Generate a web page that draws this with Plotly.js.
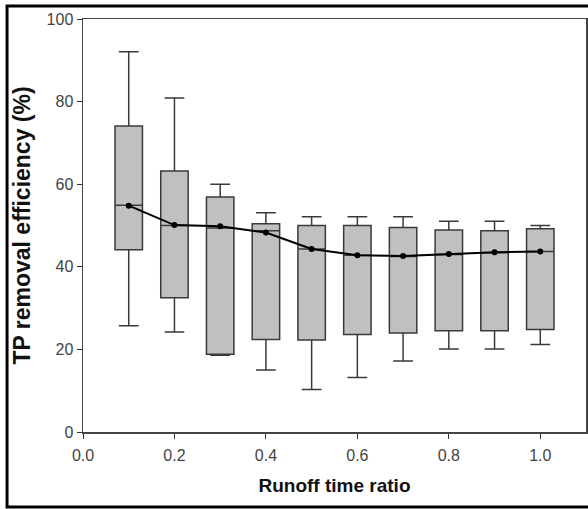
<!DOCTYPE html>
<html>
<head>
<meta charset="utf-8">
<script src="https://cdn.plot.ly/plotly-3.0.1.min.js"></script>
<style>html,body{margin:0;padding:0;background:#fff;}#chart{width:588px;height:509px;}</style>
</head>
<body>
<div id="chart"></div>
<script>
// Runoff time ratio positions
const ratio = [0.1, 0.2, 0.3, 0.4, 0.5, 0.6, 0.7, 0.8, 0.9, 1.0];
// Box statistics (TP removal efficiency, %)
const upperWhisker = [92.1, 80.9, 60.0, 53.1, 52.1, 52.1, 52.1, 51.0, 51.0, 50.0];
const q3 = [74.1, 63.2, 56.9, 50.4, 50.0, 50.0, 49.5, 48.9, 48.7, 49.2];
const median = [54.9, 50.0, 49.4, 48.7, 44.3, 42.8, 42.5, 43.0, 43.4, 43.7];
const q1 = [44.1, 32.5, 18.8, 22.4, 22.3, 23.6, 24.0, 24.5, 24.5, 24.8];
const lowerWhisker = [25.7, 24.2, 18.6, 15.0, 10.3, 13.2, 17.2, 20.1, 20.1, 21.2];
// Mean values (connected line)
const meanVals = [54.8, 50.1, 49.8, 48.3, 44.3, 42.8, 42.6, 43.1, 43.5, 43.7];
const xTicks = [0.0, 0.2, 0.4, 0.6, 0.8, 1.0];
const yTicks = [0, 20, 40, 60, 80, 100];

const boxTrace = {
  type: 'box',
  x: ratio,
  q1: q1,
  median: median,
  q3: q3,
  lowerfence: lowerWhisker,
  upperfence: upperWhisker,
  width: 0.06,
  whiskerwidth: 0.72,
  fillcolor: '#c0c0c0',
  line: {color: '#3a3a3a', width: 1.5},
  boxpoints: false,
  hoverinfo: 'skip',
  showlegend: false
};
const meanTrace = {
  type: 'scatter',
  mode: 'lines+markers',
  x: ratio,
  y: meanVals,
  line: {color: '#000', width: 2},
  marker: {color: '#000', size: 6},
  showlegend: false,
  hoverinfo: 'skip'
};

const tickFont = {family: '"Liberation Sans Narrow", "Arial Narrow", Arial, sans-serif', size: 16, color: '#444'};

const layout = {
  width: 588,
  height: 509,
  margin: {l: 83, r: 2, t: 19, b: 77},
  paper_bgcolor: '#fff',
  plot_bgcolor: '#fff',
  showlegend: false,
  font: {family: 'Arial, "Liberation Sans", sans-serif', color: '#333'},
  xaxis: {
    range: [0, 1.1],
    tickvals: xTicks,
    ticktext: xTicks.map(v => v.toFixed(1)),
    ticks: 'outside',
    ticklen: 5,
    tickcolor: '#333',
    ticklabelstandoff: 3,
    showline: true,
    linecolor: '#444',
    linewidth: 1.5,
    mirror: true,
    showgrid: false,
    zeroline: false,
    tickfont: tickFont,
    title: {text: '<b>Runoff time ratio</b>', font: {size: 19, color: '#111'}, standoff: 16}
  },
  yaxis: {
    range: [0, 100],
    tickvals: yTicks,
    ticks: 'outside',
    ticklen: 5,
    tickcolor: '#333',
    showline: true,
    linecolor: '#444',
    linewidth: 1.5,
    mirror: true,
    showgrid: false,
    zeroline: false,
    tickfont: tickFont,
    title: {text: '<b>TP removal efficiency (%)</b>', font: {size: 23, color: '#111'}, standoff: 9}
  },
  shapes: [{
    type: 'rect', xref: 'paper', yref: 'paper',
    x0: -0.151, x1: 1.02, y0: -0.1816, y1: 1.0315,
    line: {color: '#000', width: 3}
  }]
};

Plotly.newPlot('chart', [boxTrace, meanTrace], layout, {staticPlot: true});
</script>
</body>
</html>
